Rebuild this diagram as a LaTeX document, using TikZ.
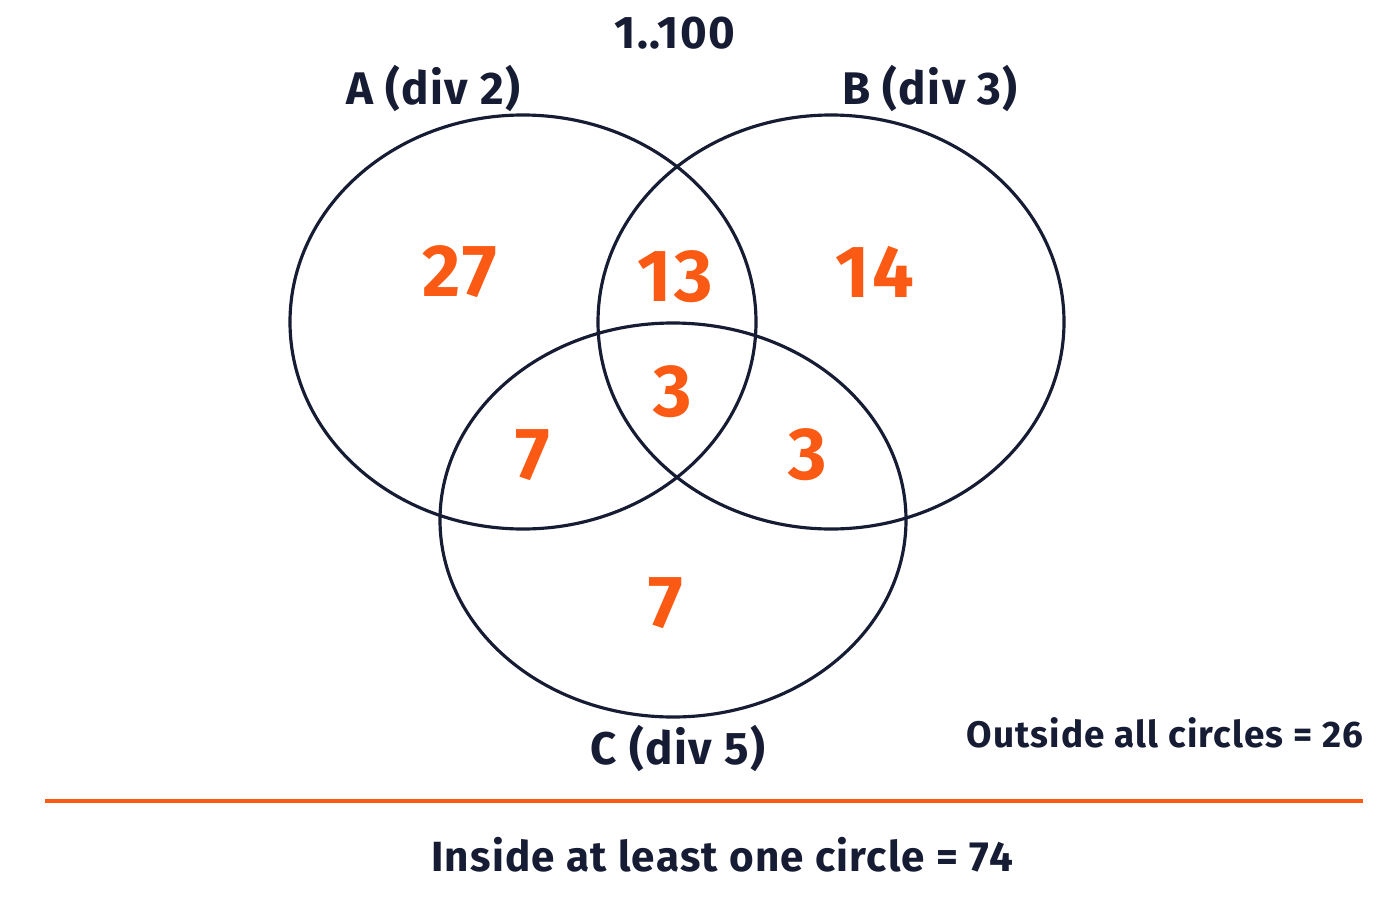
\documentclass[tikz,border=0pt]{standalone}
\usepackage{fontspec}
\setmainfont{Fira Sans}[LetterSpace=3]
\definecolor{navy}{HTML}{161C33}
\definecolor{accent}{HTML}{FA5A14}
\begin{document}
\begin{tikzpicture}[x=0.01cm,y=-0.01cm,thick]
\useasboundingbox (0,0) rectangle (1400,900);
\tikzset{
  ring/.style={draw=navy,line width=0.9pt},
  setlab/.style={text=navy,font=\fontsize{13}{15}\selectfont\bfseries},
  count/.style={text=accent,font=\fontsize{21}{24}\selectfont\bfseries},
  note/.style={text=navy,font=\fontsize{12}{14}\selectfont\bfseries}
}

\draw[ring] (523,322) ellipse[x radius=233,y radius=207];
\draw[ring] (831,322) ellipse[x radius=233,y radius=207];
\draw[ring] (673,520) ellipse[x radius=233,y radius=197];

\node[setlab] (U) at (675,33) {1..100};
\node[setlab] (A) at (433,88) {A (div 2)};
\node[setlab] (B) at (930,88) {B (div 3)};
\node[setlab] (C) at (678,748) {C (div 5)};

\node[count] (a) at (460,272) {27};
\node[count] (ab) at (675,277) {13};
\node[count] (b) at (875,272) {14};
\node[count] (abc) at (673,392) {3};
\node[count] (ac) at (533,455) {7};
\node[count] (bc) at (808,455) {3};
\node[count] (c) at (666,603) {7};

\node[note,font=\fontsize{10.5}{12}\selectfont\bfseries] (out) at (1165,733) {Outside all circles = 26};
\draw[accent,line width=0.9pt] (45,801) -- (1363,801);
\node[note] (in) at (722,855) {Inside at least one circle = 74};
\end{tikzpicture}
\end{document}
